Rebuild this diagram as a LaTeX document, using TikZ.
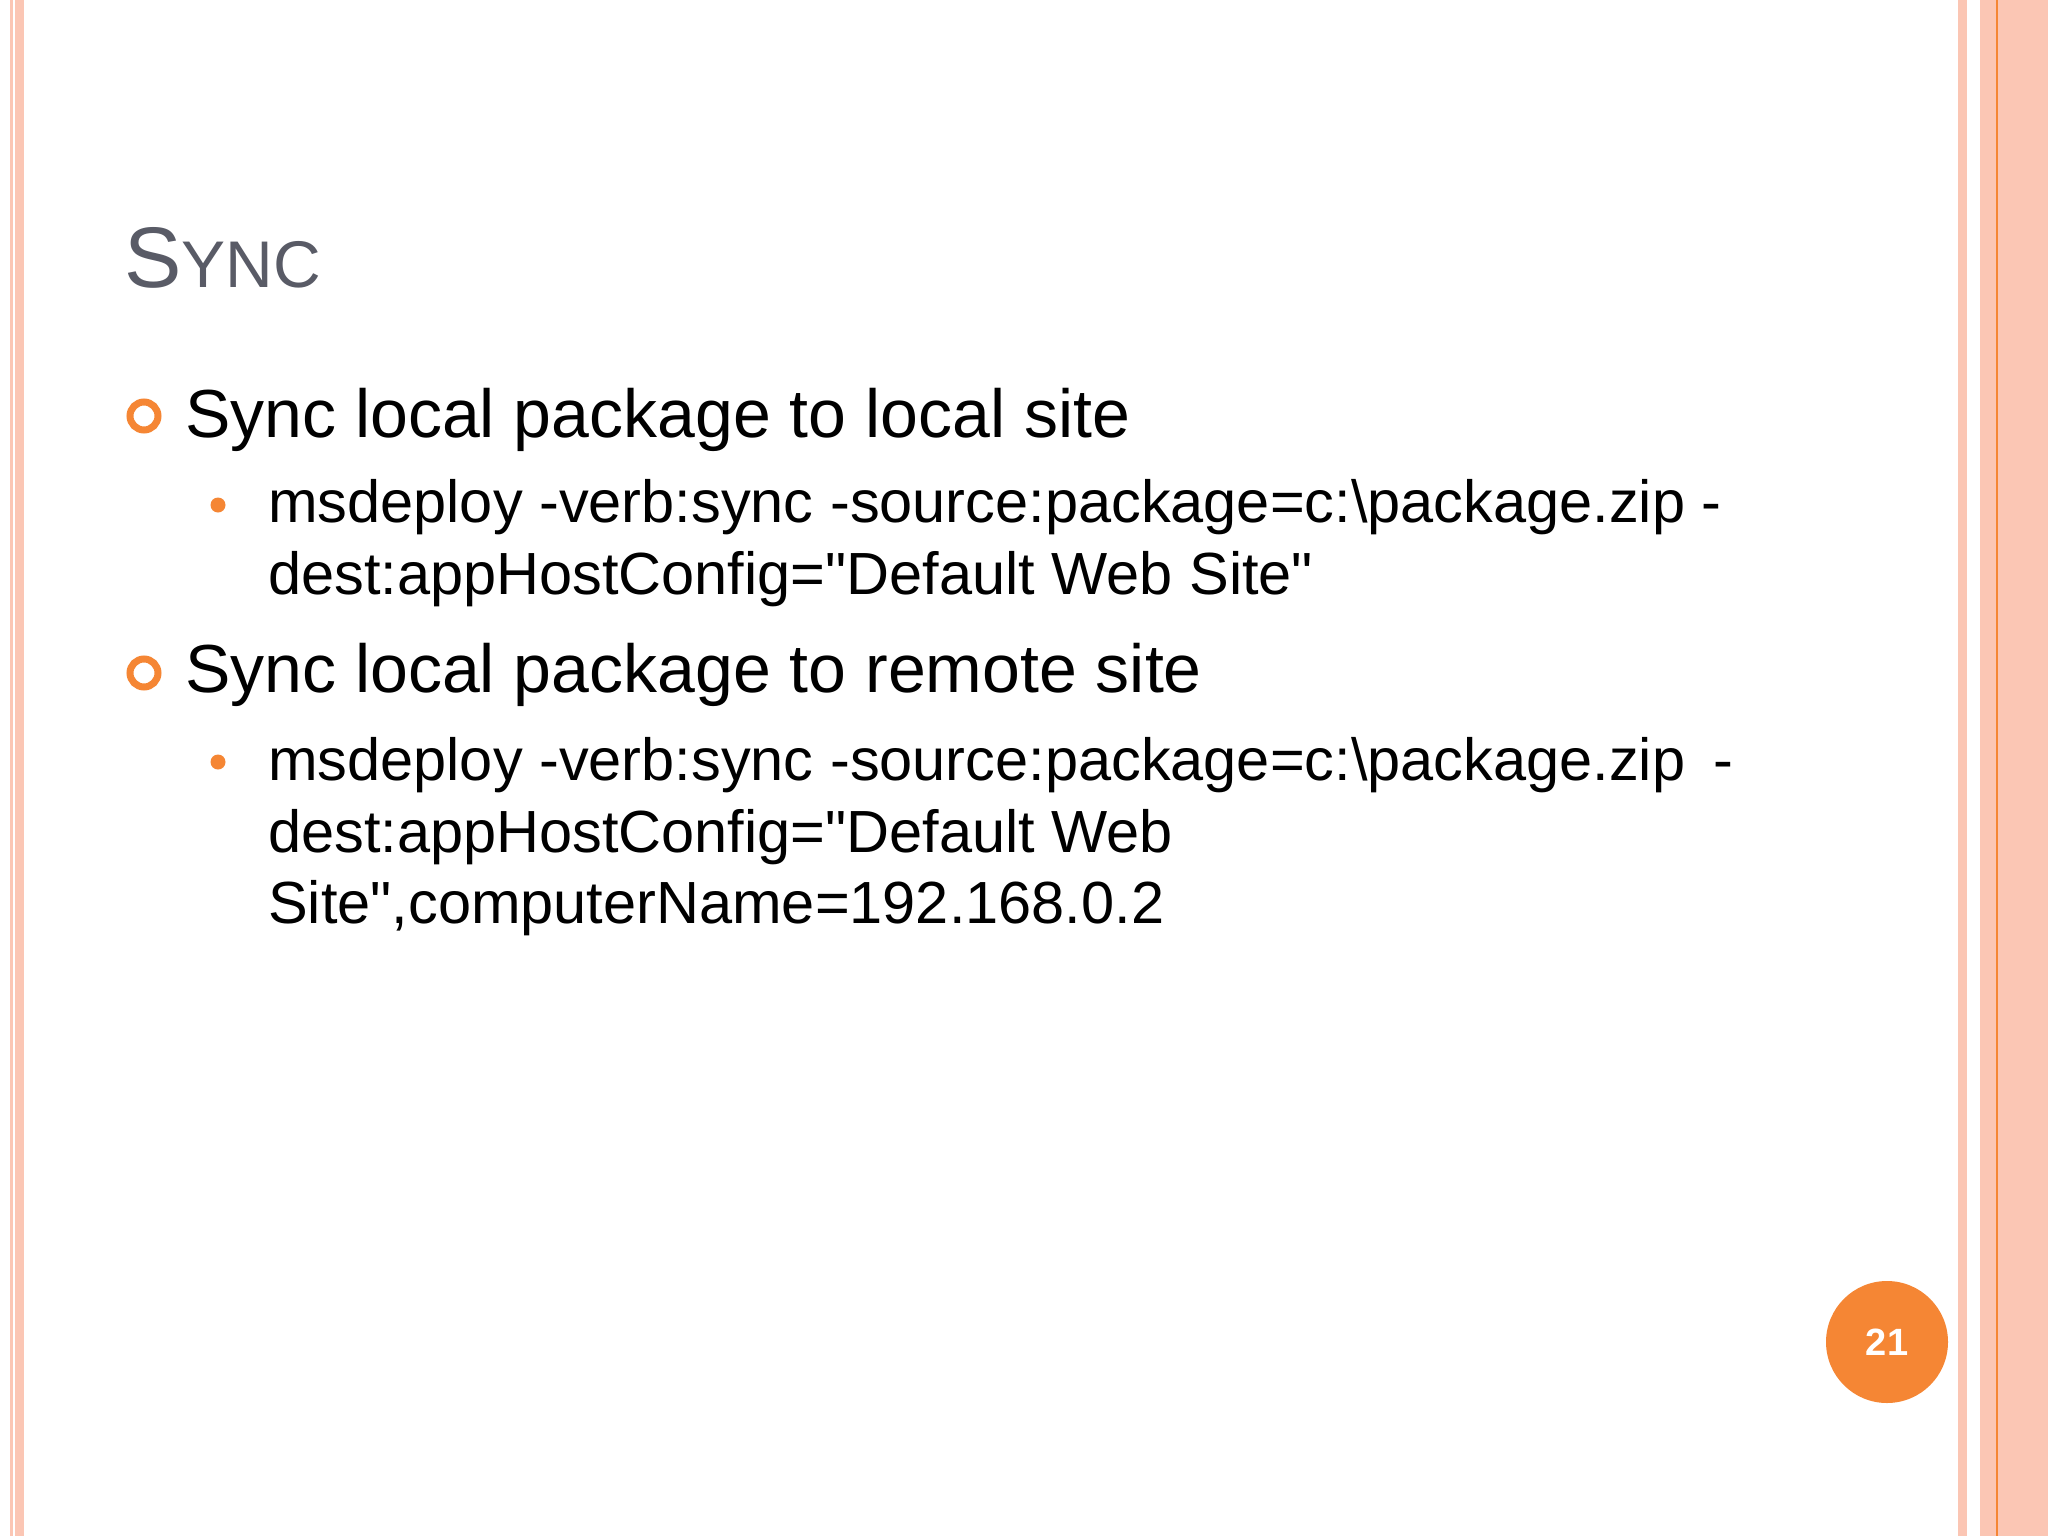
\documentclass[tikz,border=0pt]{standalone}
\usepackage{fontspec}
\setmainfont{Liberation Sans}
\definecolor{stripe}{HTML}{FBC6B4}
\definecolor{org}{HTML}{F58634}
\definecolor{titlec}{HTML}{595B66}
\newcommand{\q}{\textquotedbl}
\tikzset{
  lone/.style={anchor=base west,inner sep=0pt,font=\fontsize{68}{80}\selectfont},
  ltwo/.style={anchor=base west,inner sep=0pt,font=\fontsize{59.5}{72}\selectfont},
  ring/.style={circle,draw=org,line width=7pt,minimum size=28pt,inner sep=0pt},
  dot/.style={circle,fill=org,minimum size=15pt,inner sep=0pt}
}
\begin{document}
\begin{tikzpicture}[x=1pt,y=-1pt]
\useasboundingbox (0,0) rectangle (2048,1536);
\fill[white] (0,0) rectangle (2048,1536);
\fill[stripe] (10,0) rectangle (13,1536);
\fill[stripe] (15,0) rectangle (24,1536);
\fill[stripe] (1958,0) rectangle (1967,1536);
\fill[stripe] (1980,0) rectangle (2048,1536);
\fill[org] (1995.5,0) rectangle (1997.5,1536);
\node[anchor=base west,inner sep=0pt,text=titlec] (title) at (124,287)
  {\fontsize{86}{100}\selectfont S\fontsize{66}{80}\selectfont YNC};
\node[ring] (r1) at (144,416) {};
\node[lone] (t1) at (185,437) {Sync local package to local site};
\node[dot] (d1) at (218,505) {};
\node[ltwo] (t1a) at (268,522) {msdeploy -verb:sync -source:package=c:\textbackslash package.zip -};
\node[ltwo] (t1b) at (268,594) {dest:appHostConfig=\q Default Web Site\q};
\node[ring] (r2) at (144,673) {};
\node[lone] (t2) at (185,692) {Sync local package to remote site};
\node[dot] (d2) at (218,762) {};
\node[ltwo] (t2a) at (268,780) {msdeploy -verb:sync -source:package=c:\textbackslash package.zip\hspace{28pt}-};
\node[ltwo] (t2b) at (268,852) {dest:appHostConfig=\q Default Web};
\node[ltwo] (t2c) at (268,923) {Site\q,computerName=192.168.0.2};
\node[circle,fill=org,minimum size=122pt,inner sep=0pt,text=white,font=\bfseries\fontsize{38}{40}\selectfont] (pg) at (1887,1342) {21};
\end{tikzpicture}
\end{document}
